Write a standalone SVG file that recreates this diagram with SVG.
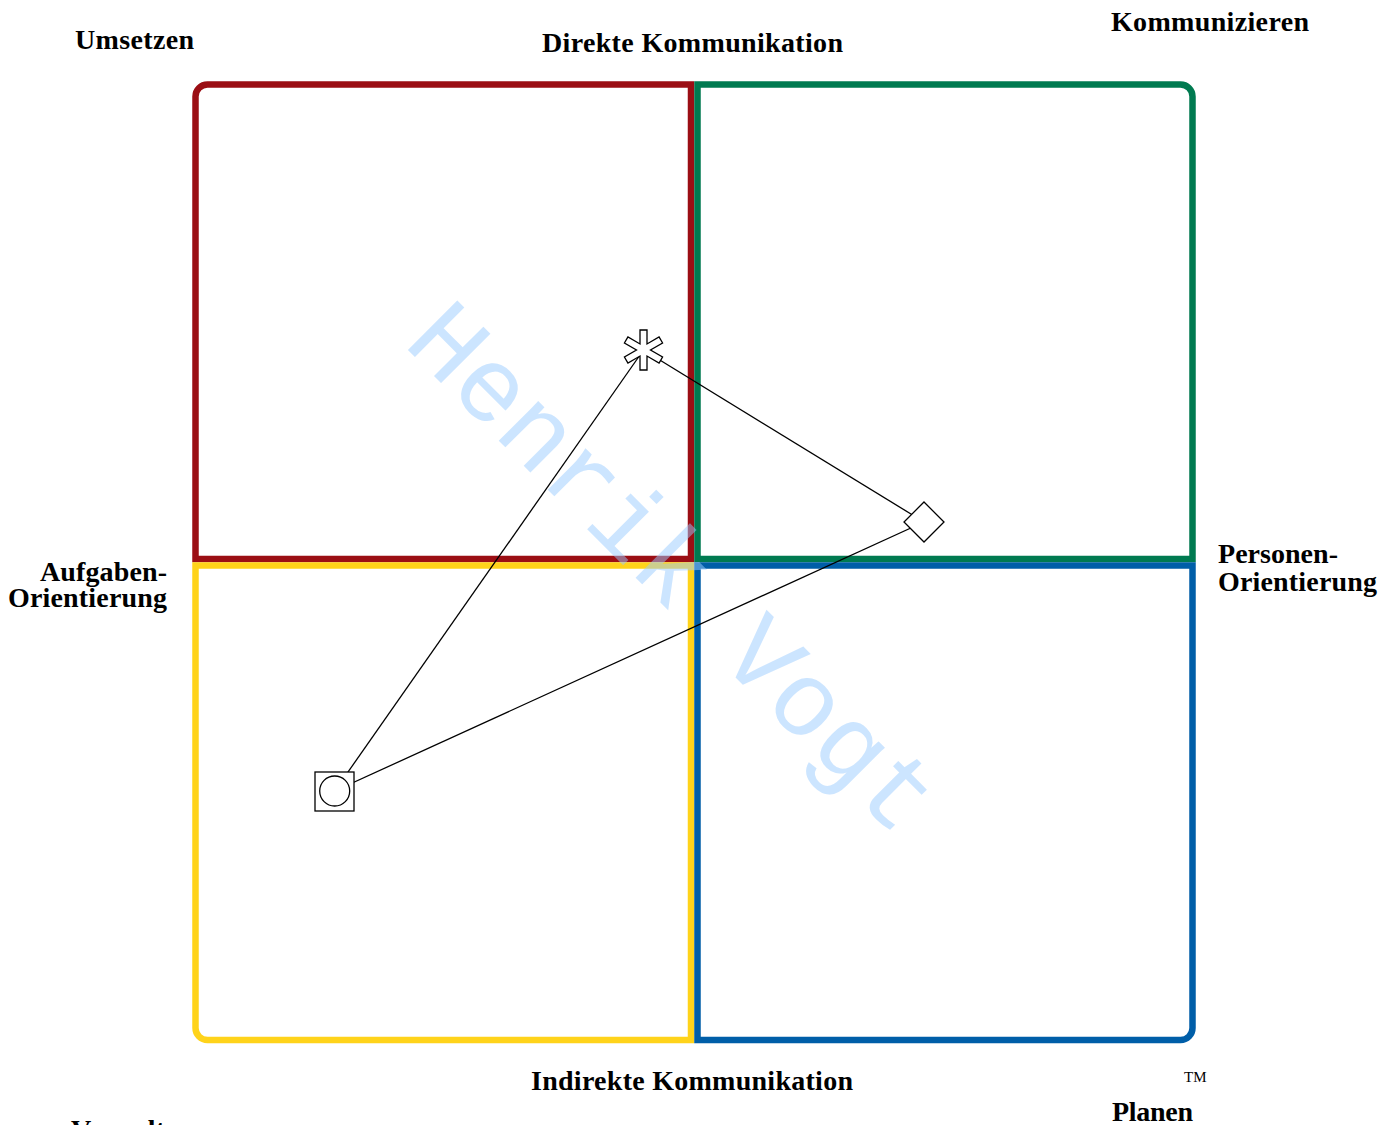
<svg xmlns="http://www.w3.org/2000/svg" width="1396" height="1125" viewBox="0 0 1396 1125">
<style>
.q{fill:none;stroke-width:6.5;stroke-linejoin:miter}
.lbl{font-family:"Liberation Serif","Times New Roman",serif;font-weight:bold;font-size:28px;fill:#000}
.con{stroke:#000;stroke-width:1.3;fill:none}
.mk{fill:#fff;stroke:#000;stroke-width:1.3}
</style>
<rect width="1396" height="1125" fill="#fff"/>
<g id="quadrants">
<path id="q-red" class="q" stroke="#9b0e14" d="M195.5,559 V96.5 A12,12 0 0 1 207.5,84.5 H691 V559 Z"/>
<path id="q-green" class="q" stroke="#007a50" d="M697.5,84.5 H1180.5 A12,12 0 0 1 1192.5,96.5 V559 H697.5 Z"/>
<path id="q-yellow" class="q" stroke="#ffd31a" d="M195.5,565.5 H691 V1040 H207.5 A12,12 0 0 1 195.5,1028 Z"/>
<path id="q-blue" class="q" stroke="#005ea8" d="M697.5,565.5 H1192.5 V1028 A12,12 0 0 1 1180.5,1040 H697.5 Z"/>
</g>
<g id="watermark">
<text x="0" y="0" transform="translate(402,344) rotate(45)" font-family="'Liberation Mono','Courier New',monospace" font-size="106" fill="#99ccff" fill-opacity="0.5">Henrik Vogt</text>
</g>
<g id="connectors">
<line class="con" x1="334.7" y1="791" x2="643.5" y2="350"/>
<line class="con" x1="643.5" y1="350" x2="924" y2="522"/>
<line class="con" x1="924" y1="522" x2="334.7" y2="791"/>
</g>
<g id="node-asterisk">
<polygon class="mk" transform="translate(643.5,350)" points="-3.5,-20 3.5,-20 3.5,-6.06 15.57,-13.03 19.07,-6.97 7,0 19.07,6.97 15.57,13.03 3.5,6.06 3.5,20 -3.5,20 -3.5,6.06 -15.57,13.03 -19.07,6.97 -7,0 -19.07,-6.97 -15.57,-13.03 -3.5,-6.06"/>
</g>
<g id="node-diamond">
<polygon class="mk" points="924,502 944,522 924,542 904,522"/>
</g>
<g id="node-square">
<rect class="mk" x="315" y="772" width="39" height="39"/>
<circle class="mk" cx="334.7" cy="791" r="15"/>
</g>
<g id="labels">
<text class="lbl" x="75" y="49" textLength="119">Umsetzen</text>
<text class="lbl" x="542" y="52.3" textLength="301">Direkte Kommunikation</text>
<text class="lbl" x="1111" y="31" textLength="198">Kommunizieren</text>
<text class="lbl" x="40" y="581" textLength="127">Aufgaben-</text>
<text class="lbl" x="8" y="607" textLength="159">Orientierung</text>
<text class="lbl" x="1218" y="563" textLength="120">Personen-</text>
<text class="lbl" x="1218" y="591" textLength="159">Orientierung</text>
<text class="lbl" x="531" y="1090" textLength="322">Indirekte Kommunikation</text>
<text class="lbl" x="1112" y="1121" textLength="81">Planen</text>
<text x="1184" y="1082" font-family="'Liberation Serif','Times New Roman',serif" font-size="15" fill="#000">TM</text>
<text class="lbl" x="71" y="1139">Verwalten</text>
</g>
</svg>
